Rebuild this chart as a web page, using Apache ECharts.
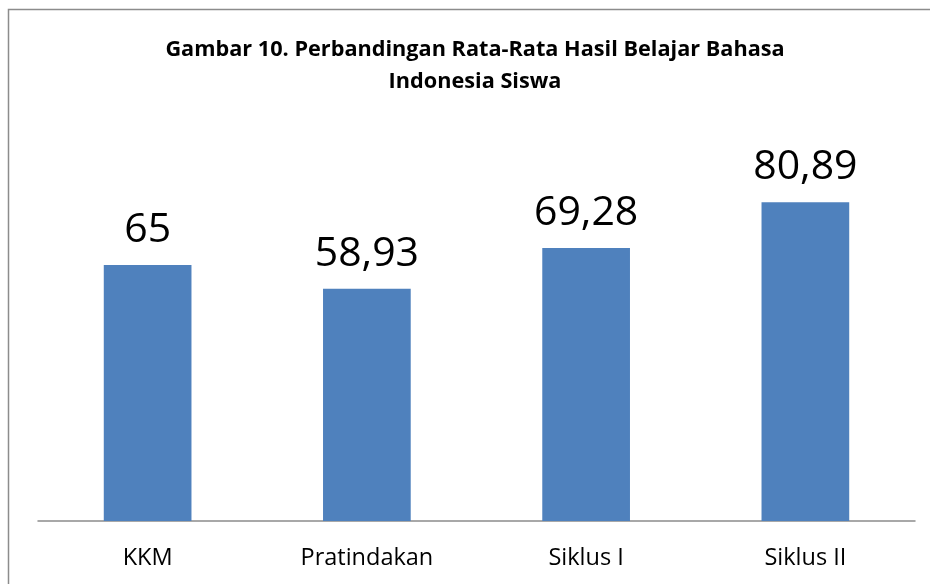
<!DOCTYPE html>
<html>
<head>
<meta charset="utf-8">
<script src="https://cdn.jsdelivr.net/npm/echarts@6/dist/echarts.min.js"></script>
<style>
  html, body { margin: 0; padding: 0; background: #fff; }
  #chart { width: 930px; height: 584px; }
</style>
</head>
<body>
<div id="chart"></div>
<script>
'use strict';
var categories = ['KKM', 'Pratindakan', 'Siklus I', 'Siklus II'];
var values = [65, 58.93, 69.28, 80.89];
var titleText = 'Gambar 10. Perbandingan Rata-Rata Hasil Belajar Bahasa\nIndonesia Siswa';

var myChart = echarts.init(document.getElementById('chart'));
var font = '"Open Sans", "Noto Sans", sans-serif';

myChart.setOption({
    animation: false,
    textStyle: { fontFamily: font },
    graphic: [{
        type: 'rect',
        shape: { x: 8.5, y: 9.5, width: 1000, height: 1000 },
        style: { fill: 'none', stroke: '#8c8c8c', lineWidth: 1.5 },
        silent: true
    }],
    title: {
        text: titleText,
        left: 470,
        textAlign: 'center',
        top: 29,
        textStyle: {
            fontFamily: font,
            fontWeight: 'bold',
            fontSize: 21.7,
            lineHeight: 32,
            color: '#000'
        }
    },
    grid: { left: 38, right: 15, top: 127, bottom: 63 },
    xAxis: {
        type: 'category',
        data: categories,
        axisLine: { lineStyle: { color: '#8c8c8c', width: 1.5 } },
        axisTick: { show: false },
        axisLabel: {
            color: '#000',
            fontSize: 23.5,
            margin: 25,
            fontFamily: font
        }
    },
    yAxis: {
        type: 'value',
        min: 0,
        max: 100,
        show: false,
        splitLine: { show: false }
    },
    series: [{
        type: 'bar',
        data: values,
        barWidth: '40%',
        itemStyle: { color: '#4f81bd' },
        label: {
            show: true,
            position: 'top',
            distance: 14,
            fontSize: 41,
            color: '#000',
            fontFamily: font,
            formatter: function (p) {
                return String(p.value).replace('.', ',');
            }
        }
    }]
});
</script>
</body>
</html>
